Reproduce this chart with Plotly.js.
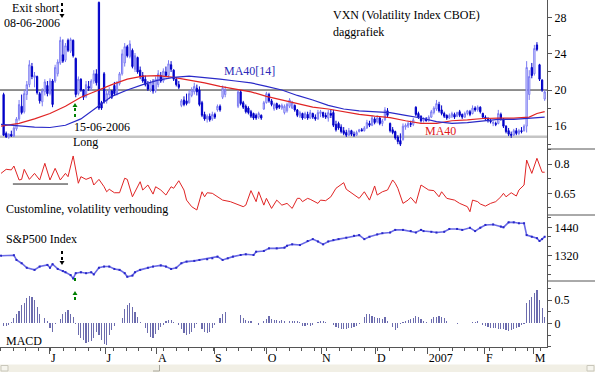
<!DOCTYPE html>
<html>
<head>
<meta charset="utf-8">
<script src="https://cdn.plot.ly/plotly-3.0.1.min.js"></script>
<style>html,body{margin:0;padding:0;background:#fff;}#chart{width:595px;height:372px;}</style>
</head>
<body>
<div id="chart"></div>
<script>
// ---------- DATA ----------
// trading-day index: 0 = 1 June 2006 (first bar = 5 May 2006, last = 8 March 2007)
const firstDay = -18, lastDay = 192;

// month tick positions (trading-day index) and labels
const monthTicks  = [0, 21.5, 41.5, 63.7, 84.1, 105.2, 126.5, 146.6, 168.8, 187.8];
const monthLabels = ['J', 'J', 'A', 'S', 'O', 'N', 'D', '2007', 'F', 'M'];

// VXN daily OHLC (index -18 .. 192)
const vxnOpen = [
 19.5,15.2,14.8,15.1,14.9,15.7,16.8,18.2,17.6,19.5,
 20.6,22.6,21.4,21.5,19.6,18.7,19.8,20.5,19.6,21.0,
 21.0,21.8,23.0,23.9,23.3,25.5,24.3,25.5,23.5,19.6,
 21.2,20.0,19.3,20.4,20.2,21.0,21.8,29.7,18.6,21.8,
 18.8,19.5,19.9,20.5,19.6,20.7,21.8,23.0,24.8,23.7,
 24.4,22.3,23.6,22.2,21.6,21.2,20.6,20.1,20.5,19.9,
 20.6,21.6,21.0,22.0,21.6,22.8,22.2,21.2,20.6,18.3,
 18.9,18.8,18.6,19.4,19.8,20.2,20.0,18.6,17.3,16.8,
 17.1,16.8,17.3,17.8,18.2,19.2,19.5,null,null,null,
 null,18.2,19.8,18.6,18.2,18.0,17.6,17.4,17.2,17.0,
 17.2,17.9,18.6,19.5,18.8,17.9,18.5,18.3,18.0,17.5,
 17.7,18.2,18.0,18.3,17.8,17.1,17.4,16.9,17.3,16.9,
 17.4,17.0,16.8,17.4,17.5,17.2,16.9,17.4,17.5,16.2,
 16.3,15.9,15.5,15.3,15.0,15.5,15.1,15.0,15.4,15.6,
 15.5,15.8,16.3,16.1,16.8,16.5,16.9,16.3,16.7,17.7,
 16.3,15.6,15.4,14.8,14.4,14.5,15.9,16.0,16.3,16.2,
 18.1,17.4,17.1,16.6,16.8,16.6,17.0,17.5,17.9,18.4,
 17.8,17.4,17.2,16.9,17.1,17.3,17.1,17.6,17.3,17.0,
 17.4,17.6,17.4,18.0,17.8,18.1,17.4,17.0,16.8,16.6,
 16.3,16.3,16.3,17.3,16.8,16.0,15.5,15.1,15.0,15.5,
 15.2,15.5,15.5,16.0,19.5,22.5,21.8,25.0,22.8,21.1,19.0];
const vxnHigh = [
 19.7,15.4,15.2,15.5,16.0,17.0,18.9,19.5,20.0,21.0,
 23.3,23.0,22.0,21.6,19.8,20.2,21.2,21.0,21.3,21.2,
 22.8,23.4,25.9,25.6,25.2,25.7,25.8,25.6,23.6,21.5,
 21.3,20.1,21.0,21.0,21.2,22.2,22.3,29.8,18.8,22.0,
 20.0,20.3,20.0,20.9,21.0,22.0,24.5,25.2,25.0,25.5,
 24.6,24.1,23.7,22.6,22.0,21.6,21.0,21.1,21.2,21.5,
 22.2,22.0,22.4,22.6,23.3,23.2,22.3,21.4,21.0,19.0,
 19.3,19.6,20.0,20.3,20.8,20.6,20.4,18.8,17.6,17.3,
 17.4,17.6,17.5,18.4,18.4,20.5,20.4,null,null,null,
 null,20.0,20.0,18.8,18.4,18.2,17.8,17.5,17.4,17.6,
 17.3,18.8,19.8,19.7,19.0,18.6,18.6,18.4,18.5,18.4,
 18.6,19.1,18.8,18.4,17.9,17.7,17.5,17.6,17.6,17.8,
 17.5,17.3,17.8,17.8,17.6,17.5,17.8,17.8,17.8,16.6,
 16.5,16.2,15.9,15.6,15.8,15.6,15.4,15.5,15.7,15.8,
 16.0,16.7,16.6,17.2,17.0,17.2,17.0,16.8,18.1,18.0,
 16.4,15.9,15.5,15.0,15.2,16.3,16.3,16.5,16.6,16.9,
 18.2,17.6,17.2,17.0,17.0,17.2,17.8,18.2,18.9,18.7,
 18.3,17.6,17.3,17.4,17.6,17.5,17.6,17.8,17.4,17.6,
 17.8,17.8,18.3,18.2,18.3,18.2,17.5,17.2,17.0,16.8,
 16.6,16.5,17.8,17.5,16.9,16.1,15.8,15.4,15.7,15.8,
 15.7,15.9,16.2,23.2,22.2,23.0,25.0,25.3,22.9,21.2,20.0];
const vxnLow = [
 14.9,14.7,14.6,14.8,14.8,15.5,16.6,17.3,17.4,18.9,
 20.3,21.2,20.3,19.5,18.5,18.2,19.4,19.3,19.4,18.1,
 20.8,21.5,22.8,23.0,23.1,24.2,24.1,23.6,19.2,19.4,
 19.8,18.9,19.1,19.9,19.9,20.7,20.5,17.8,17.8,18.5,
 18.5,19.0,19.0,19.4,19.4,20.5,21.6,22.6,23.6,23.5,
 22.4,22.0,21.8,21.2,20.8,20.4,19.9,19.8,19.6,19.7,
 20.3,20.8,20.8,21.4,21.4,22.0,21.0,20.4,20.1,18.1,
 18.2,18.3,18.5,19.2,19.5,19.4,18.2,17.0,16.6,16.4,
 16.5,16.6,16.8,17.6,17.6,19.0,19.2,null,null,null,
 null,18.0,18.3,17.9,17.4,17.3,16.9,16.7,16.7,16.8,
 16.7,17.8,18.5,18.6,18.2,17.7,17.8,17.9,17.8,17.3,
 17.5,18.0,17.9,17.6,17.0,16.9,16.7,16.8,16.7,16.8,
 16.8,16.6,16.7,17.0,16.9,16.8,16.5,16.9,15.9,15.4,
 15.6,15.2,15.0,14.8,14.9,14.9,14.8,14.9,15.3,15.4,
 15.4,15.7,15.9,16.0,16.2,16.3,16.1,16.0,16.6,17.0,
 15.3,15.1,14.5,14.0,13.8,14.4,15.6,15.8,15.9,16.0,
 17.1,16.8,16.4,16.4,16.5,16.5,16.9,17.3,17.7,17.5,
 17.2,16.9,16.7,16.8,16.9,16.8,17.0,17.0,16.8,16.9,
 17.2,17.1,17.3,17.6,17.6,17.4,16.8,16.6,16.4,16.3,
 16.0,16.0,16.2,16.6,15.8,15.2,14.9,14.7,14.9,15.0,
 15.0,15.2,15.4,15.3,18.9,21.3,21.6,24.3,21.0,19.8,18.8];
const vxnClose = [
 15.0,14.8,15.1,14.9,15.8,16.8,18.4,17.5,19.6,20.6,
 22.8,21.5,21.6,19.7,18.8,19.9,20.9,19.6,21.0,18.4,
 22.5,23.1,25.5,23.2,24.9,24.4,25.6,23.8,19.5,21.2,
 20.0,19.2,20.6,20.2,21.0,21.8,20.8,18.0,18.0,18.7,
 19.6,19.9,19.2,19.6,20.8,21.8,24.0,24.8,23.8,25.1,
 22.6,23.8,22.0,21.5,21.0,20.6,20.1,20.8,19.9,21.2,
 21.8,21.0,22.1,21.6,22.9,22.3,21.2,20.6,20.3,18.8,
 18.4,18.5,19.6,20.0,20.4,19.8,18.4,17.2,16.8,17.1,
 16.7,17.3,17.0,18.2,17.8,20.2,20.0,null,null,null,
 null,19.8,18.5,18.1,17.6,17.5,17.1,16.9,16.9,17.4,
 16.9,18.6,19.6,18.8,18.4,18.4,18.0,18.1,18.3,18.2,
 18.4,18.9,18.6,17.8,17.2,17.5,16.9,17.4,16.9,17.5,
 17.0,16.8,17.5,17.6,17.1,17.0,17.5,17.2,16.1,15.6,
 15.8,15.4,15.2,15.0,15.5,15.1,15.0,15.3,15.6,15.5,
 15.8,16.4,16.1,16.9,16.4,16.9,16.3,16.6,17.8,17.2,
 15.5,15.3,14.7,14.3,14.0,16.0,16.1,16.3,16.2,16.7,
 17.3,17.0,16.6,16.8,16.6,17.0,17.6,18.0,18.5,17.7,
 17.4,17.1,16.9,17.2,17.4,17.0,17.5,17.2,17.0,17.4,
 17.7,17.3,18.0,17.8,18.1,17.6,17.0,16.8,16.6,16.5,
 16.4,16.2,17.4,16.8,16.0,15.4,15.1,15.0,15.5,15.2,
 15.5,15.4,16.0,22.5,21.5,21.6,24.6,24.5,21.2,20.0,19.8];

// moving averages
const maX    = [-19,-12,-6,0,6,12,18,24,30,36,42,48,54,60,66,72,78,84,90,96,102,108,114,120,126,132,138,144,150,156,162,168,174,180,186,189,192];
const ma40   = [16.0,16.3,16.8,17.4,18.2,19.2,19.9,20.6,21.2,21.55,21.6,21.4,21.1,20.8,20.4,20.1,19.8,19.3,18.9,18.5,18.1,17.9,17.6,17.3,17.1,16.95,16.6,16.3,16.3,16.6,16.7,16.85,16.9,16.9,17.0,17.4,17.6];
const ma40_14= [16.2,16.0,15.9,15.85,16.1,16.8,18.0,19.3,20.0,20.6,21.1,21.4,21.55,21.4,21.2,21.0,20.8,20.4,20.0,19.4,18.9,18.3,17.9,17.7,17.6,17.5,17.2,16.9,16.5,16.3,16.4,16.6,16.75,16.75,16.9,16.95,17.0];
const vxnLevels = [20, 14.83];

// custom line (volatility ratio)
const custX = [-19,-18,-17,-15,-14,-12,-11,-10,-8,-6,-4,-2,0,2,4,6,7,9,11,12,14,16,17,19,21,22,23,25,27,29,30,32,35,36,38,40,41,43,45,47,48,50,52,53,55,57,59,60,61,63,65,66,67,70,72,75,76,78,80,81,83,84,86,88,90,92,94,96,97,98,100,101,104,105,107,109,111,114,115,118,120,122,124,125,126,127,129,131,133,134,135,137,139,140,142,144,147,149,151,152,154,157,159,162,163,164,166,167,169,171,173,175,176,177,179,181,182,184,185,187,189,191,192];
const custV = [0.753,0.762,0.774,0.771,0.791,0.719,0.722,0.774,0.722,0.753,0.719,0.805,0.719,0.779,0.719,0.753,0.736,0.843,0.702,0.736,0.722,0.733,0.693,0.722,0.684,0.658,0.671,0.653,0.653,0.728,0.722,0.632,0.710,0.667,0.693,0.646,0.684,0.667,0.641,0.684,0.676,0.715,0.667,0.615,0.581,0.564,0.658,0.632,0.653,0.650,0.632,0.624,0.615,0.607,0.598,0.581,0.589,0.664,0.607,0.658,0.589,0.624,0.572,0.615,0.589,0.598,0.572,0.624,0.624,0.607,0.624,0.619,0.598,0.615,0.612,0.632,0.676,0.705,0.671,0.641,0.624,0.658,0.615,0.650,0.688,0.641,0.658,0.667,0.719,0.702,0.676,0.598,0.615,0.629,0.598,0.693,0.667,0.664,0.632,0.658,0.624,0.615,0.598,0.581,0.555,0.615,0.607,0.595,0.584,0.598,0.607,0.632,0.650,0.632,0.653,0.636,0.667,0.693,0.822,0.753,0.831,0.759,0.759];
const custRefX = [-14.4, 7];
const custRefV = [0.698, 0.698];

// S&P 500 index
const spxX = [-19,-14,-13,-11,-9,-6,-4,-1,0,1,3,5,6,8,9,10,12,14,16,17,19,21,23,25,27,29,30,32,33,35,38,40,43,45,47,49,51,53,56,58,61,63,65,67,69,71,74,76,79,80,83,85,88,91,92,94,97,100,102,104,106,108,110,112,115,118,120,122,124,127,129,132,134,137,140,142,144,145,148,150,153,155,158,160,163,165,167,169,172,175,176,178,180,182,184,185,187,189,190,191,192];
const spxV = [1320,1322,1302,1288,1269,1260,1274,1281,1269,1284,1264,1255,1250,1238,1224,1246,1250,1246,1250,1241,1269,1274,1274,1264,1260,1246,1231,1236,1250,1260,1269,1274,1279,1274,1264,1269,1288,1295,1298,1302,1305,1309,1316,1302,1309,1316,1323,1326,1323,1337,1340,1351,1351,1354,1362,1368,1365,1382,1390,1380,1368,1380,1386,1390,1396,1404,1407,1390,1400,1410,1415,1418,1429,1429,1424,1418,1429,1424,1421,1418,1421,1433,1433,1429,1438,1424,1438,1450,1452,1443,1440,1461,1461,1457,1457,1407,1400,1394,1382,1390,1400];

// MACD histogram (index -18 .. 192)
const macd = [
 -0.06,-0.06,-0.04,0.03,0.12,0.21,0.27,0.39,0.44,0.54,
 0.585,0.56,0.49,0.36,0.2,0.01,0.11,0.05,-0.09,-0.19,
 -0.02,0.0,0.1,0.2,0.25,0.29,0.21,0.14,-0.02,-0.25,
 -0.31,-0.36,-0.43,-0.41,-0.38,-0.32,-0.18,-0.25,-0.35,-0.44,
 -0.46,-0.24,-0.15,-0.06,0.0,0.0,0.12,0.31,0.39,0.43,
 0.36,0.25,0.14,0.03,0.0,-0.11,-0.21,-0.29,-0.32,-0.22,
 -0.14,-0.07,-0.03,0.04,0.07,0.07,0.03,0.0,-0.03,-0.12,
 -0.21,-0.25,-0.23,-0.18,-0.1,-0.02,0.0,-0.12,-0.18,-0.21,
 -0.18,-0.11,-0.04,0.0,0.12,0.2,0.25,0,0,0,
 0,0,0.18,0.11,0.07,0.04,0.04,0.015,0.0,-0.03,
 0.0,0.04,0.1,0.16,0.09,0.07,0.07,0.06,0.07,0.04,
 0.015,0.04,0.04,0.06,0.04,0.03,-0.05,-0.05,-0.04,-0.05,
 -0.03,0.01,0.03,0.04,0.04,0.02,0.01,0.0,-0.03,-0.07,
 -0.11,-0.13,-0.13,-0.12,-0.11,-0.11,-0.08,-0.05,-0.02,0.0,
 0.14,0.2,0.2,0.16,0.14,0.11,0.11,0.09,0.13,0.06,
 0.0,-0.07,-0.14,-0.1,-0.02,0.02,0.04,0.07,0.09,0.11,
 0.15,0.14,0.09,0.06,0.03,0.0,0.09,0.13,0.14,0.16,
 0.14,0.11,0.04,0.0,0.01,0.01,-0.01,0.01,0.0,0.01,
 0.0,0.01,0.02,0.03,0.04,0.01,-0.03,-0.06,-0.07,-0.09,
 -0.09,-0.1,-0.12,-0.13,-0.13,-0.14,-0.17,-0.14,-0.13,-0.09,
 -0.07,-0.04,-0.02,0.43,0.5,0.57,0.64,0.71,0.5,0.32,0.14];

// axis ticks
const vxnTicks = [16, 20, 24, 28];
const custTicks = [0.65, 0.8];
const spxTicks = [1320, 1440];
const macdTicks = [0, 0.5];

// ---------- CHART ----------
const days = [];
for (let d = firstDay; d <= lastDay; d++) days.push(d);

const PW = 547, PH = 347;           // plot area in px
const px = v => v / PW;             // px -> paper x
const py = v => (PH - v) / PH;      // px -> paper y
const FONT = 'Liberation Serif, Times New Roman, serif';

const traces = [
  {type: 'candlestick', x: days, open: vxnOpen, high: vxnHigh, low: vxnLow, close: vxnClose,
   xaxis: 'x', yaxis: 'y', whiskerwidth: 0,
   increasing: {line: {color: '#7a7af2', width: 1}, fillcolor: '#ffffff'},
   decreasing: {line: {color: '#0000c8', width: 1}, fillcolor: '#0000c8'},
   hoverinfo: 'skip'},
  {type: 'scatter', mode: 'lines', x: maX, y: ma40, xaxis: 'x', yaxis: 'y',
   line: {color: '#e02424', width: 1.2}, hoverinfo: 'skip'},
  {type: 'scatter', mode: 'lines', x: maX, y: ma40_14, xaxis: 'x', yaxis: 'y',
   line: {color: '#2a2ac8', width: 1.2}, hoverinfo: 'skip'},
  {type: 'scatter', mode: 'lines', x: custX, y: custV, xaxis: 'x', yaxis: 'y2',
   line: {color: '#e02424', width: 1}, hoverinfo: 'skip'},
  {type: 'scatter', mode: 'lines', x: custRefX, y: custRefV, xaxis: 'x', yaxis: 'y2',
   line: {color: '#222', width: 1}, hoverinfo: 'skip'},
  {type: 'scatter', mode: 'lines+markers', x: spxX, y: spxV, xaxis: 'x', yaxis: 'y3',
   line: {color: '#6a6ae6', width: 1.6},
   marker: {symbol: 'square', size: 2, color: '#2828c8'},
   hoverinfo: 'skip'},
  {type: 'bar', x: days, y: macd, xaxis: 'x', yaxis: 'y4', width: 0.45,
   marker: {color: '#6c6cae', line: {width: 0}}, hoverinfo: 'skip'}
];

const yCommon = {
  side: 'right', anchor: 'x', showline: true, linecolor: '#555', linewidth: 1,
  ticks: 'outside', ticklen: 4, tickcolor: '#555', tickmode: 'array',
  showgrid: false, zeroline: false, fixedrange: true,
  tickfont: {family: FONT, size: 12, color: '#000'}
};

const dottedArrow = (x, y0, y1, color) => ({
  type: 'line', xref: 'paper', yref: 'paper', x0: px(x), x1: px(x), y0: py(y0), y1: py(y1),
  line: {color: color, width: 2, dash: 'dot'}
});
const arrowHead = (x, y, dir, color) => {
  const a = 2.5, h = 4 * dir;
  return {type: 'path', xref: 'paper', yref: 'paper',
    path: `M ${px(x - a)} ${py(y - h)} L ${px(x + a)} ${py(y - h)} L ${px(x)} ${py(y)} Z`,
    fillcolor: color, line: {width: 0}};
};

const shapes = [
  {type: 'line', xref: 'paper', x0: 0, x1: 1, yref: 'y', y0: vxnLevels[1], y1: vxnLevels[1],
   line: {color: '#c4c4c4', width: 2.5}, layer: 'below'},
  {type: 'line', xref: 'paper', x0: 0, x1: 1, yref: 'y', y0: vxnLevels[0], y1: vxnLevels[0],
   line: {color: '#222', width: 1}, layer: 'below'},
  {type: 'line', xref: 'paper', yref: 'paper', x0: 1, x1: 595 / PW, y0: py(149), y1: py(149), line: {color: '#555', width: 1}},
  {type: 'line', xref: 'paper', yref: 'paper', x0: 1, x1: 595 / PW, y0: py(215), y1: py(215), line: {color: '#555', width: 1}},
  {type: 'line', xref: 'paper', yref: 'paper', x0: 1, x1: 595 / PW, y0: py(281), y1: py(281), line: {color: '#555', width: 1}},
  dottedArrow(62, 3, 15, '#000'), arrowHead(62, 18, 1, '#000'),
  dottedArrow(62, 251, 262, '#000'), arrowHead(62, 265, 1, '#000'),
  dottedArrow(75, 117, 106, '#008000'), arrowHead(75, 103, -1, '#008000'),
  dottedArrow(75, 278, 282, '#008000'),
  dottedArrow(75, 300, 294, '#008000'), arrowHead(75, 291, -1, '#008000'),
  {type: 'rect', xref: 'paper', yref: 'paper', x0: 0, x1: 595 / PW, y0: py(372), y1: py(364.5),
   fillcolor: '#f1efe5', line: {width: 0}},
  {type: 'rect', xref: 'paper', yref: 'paper', x0: px(1), x1: px(8), y0: py(371), y1: py(365.5),
   fillcolor: '#f6f5ee', line: {color: '#c9c7bb', width: 1}},
  {type: 'rect', xref: 'paper', yref: 'paper', x0: px(587), x1: px(594), y0: py(371), y1: py(365.5),
   fillcolor: '#f6f5ee', line: {color: '#c9c7bb', width: 1}},
  {type: 'line', xref: 'paper', yref: 'paper', x0: px(159.5), x1: px(159.5), y0: py(371), y1: py(365),
   line: {color: '#a8a69a', width: 1}},
  {type: 'line', xref: 'paper', yref: 'paper', x0: px(153), x1: px(159.5), y0: py(371), y1: py(371),
   line: {color: '#a8a69a', width: 1}}
];

const ann = (text, x, y, anchor, color) => ({
  text: text, xref: 'paper', yref: 'paper', x: px(x), y: py(y),
  xanchor: anchor, yanchor: 'middle', showarrow: false, borderpad: 0,
  font: {family: FONT, size: 12, color: color || '#000'}
});

const annotations = [
  ann('Exit short', 61, 7.5, 'right'),
  ann('08-06-2006', 61, 22.5, 'right'),
  ann('15-06-2006', 73, 127, 'left'),
  ann('Long', 72, 142, 'left'),
  ann('MA40[14]', 223, 71, 'left', '#2a2ab8'),
  ann('VXN (Volatility Index CBOE)', 332, 15, 'left'),
  ann('daggrafiek', 332, 31.5, 'left'),
  ann('MA40', 424, 131, 'left', '#e01818'),
  ann('Customline, volatility verhouding', 5, 209, 'left'),
  ann('S&amp;P500 Index', 5, 239, 'left'),
  ann('MACD', 5, 340.5, 'left')
];

const layout = {
  width: 595, height: 372,
  margin: {l: 0, r: 48, t: 0, b: 25, pad: 0},
  paper_bgcolor: '#fff', plot_bgcolor: '#fff',
  showlegend: false, hovermode: false, bargap: 0,
  font: {family: FONT, size: 12, color: '#000'},
  xaxis: {
    anchor: 'y4', range: [-19.4, 192.9], fixedrange: true,
    rangeslider: {visible: false},
    tickmode: 'array', tickvals: monthTicks, ticktext: monthLabels,
    ticks: 'outside', ticklen: 6, tickcolor: '#555', ticklabelposition: 'outside right',
    showline: true, linecolor: '#555', linewidth: 1,
    showgrid: false, zeroline: false,
    tickfont: {family: FONT, size: 12, color: '#000'},
    minor: {ticks: 'outside', ticklen: 3, tickcolor: '#555', tickmode: 'linear', tick0: 0.3, dtick: 4.87, showgrid: false}
  },
  yaxis: Object.assign({}, yCommon, {domain: [py(149), 1], range: [13.47, 29.97], tickvals: vxnTicks,
    minor: {ticks: 'outside', ticklen: 3, tickcolor: '#555', dtick: 2, tick0: 0, showgrid: false}}),
  yaxis2: Object.assign({}, yCommon, {domain: [py(215), py(149)], range: [0.538, 0.879], tickvals: custTicks,
    ticktext: custTicks.map(String),
    minor: {ticks: 'outside', ticklen: 3, tickcolor: '#555', dtick: 0.075, tick0: 0.5, showgrid: false}}),
  yaxis3: Object.assign({}, yCommon, {domain: [py(281), py(215)], range: [1213, 1492], tickvals: spxTicks,
    minor: {ticks: 'outside', ticklen: 3, tickcolor: '#555', dtick: 40, tick0: 0, showgrid: false}}),
  yaxis4: Object.assign({}, yCommon, {domain: [0, py(281)], range: [-0.507, 0.907], tickvals: macdTicks,
    ticktext: ['0', '0.5'],
    minor: {ticks: 'outside', ticklen: 3, tickcolor: '#555', dtick: 0.25, tick0: 0, showgrid: false}}),
  shapes: shapes,
  annotations: annotations
};

Plotly.newPlot('chart', traces, layout, {staticPlot: true, displayModeBar: false});
</script>
</body>
</html>
